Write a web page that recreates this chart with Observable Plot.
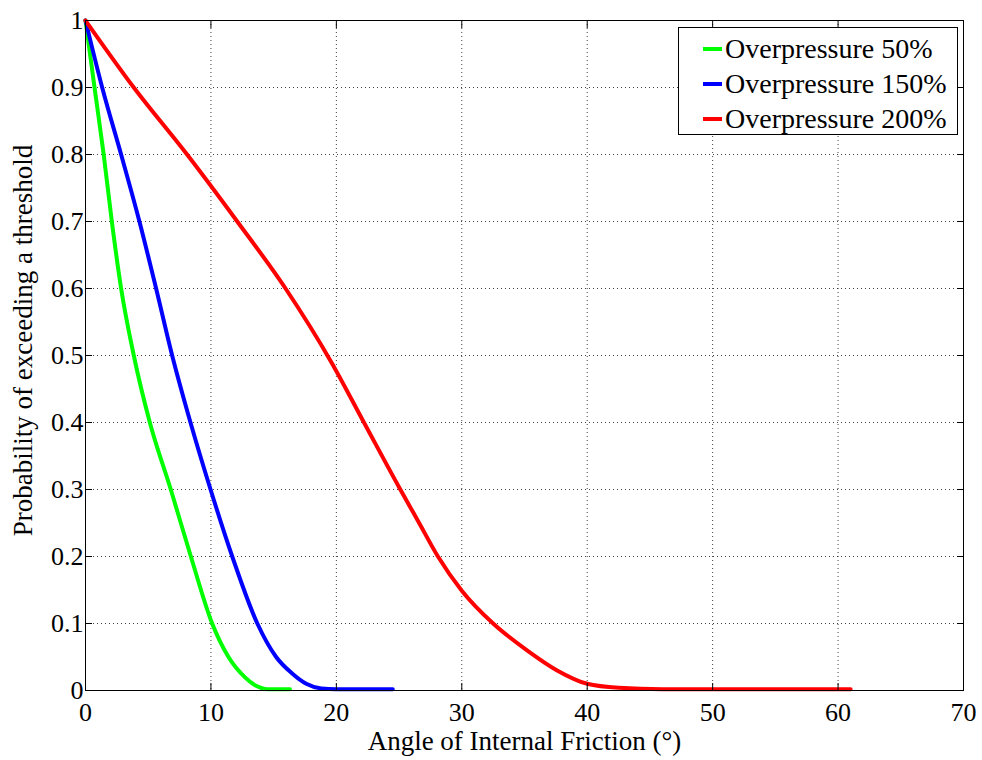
<!DOCTYPE html>
<html>
<head>
<meta charset="utf-8">
<script src="https://cdn.jsdelivr.net/npm/d3@7"></script>
<script src="https://cdn.jsdelivr.net/npm/@observablehq/plot@0.6"></script>
<style>
  html, body { margin: 0; padding: 0; background: white; }
  #wrap { position: relative; width: 982px; height: 760px; font-family: "Liberation Serif", "Times New Roman", Times, "DejaVu Serif", serif; }
  #legend { position: absolute; left: 678px; top: 27px; width: 278px; height: 106px; border: 1px solid #000; background: #fff; box-sizing: content-box; }
  .row { position: absolute; left: 0; height: 35px; display: flex; align-items: center; font-size: 28px; color: #000; white-space: nowrap; }
  .sw { display: inline-block; width: 19px; height: 4px; margin-left: 24px; margin-right: 3px; }
</style>
</head>
<body>
<div id="wrap"><div id="legend"></div></div>
<script>
const seriesNames = ["Overpressure 50%", "Overpressure 150%", "Overpressure 200%"];
const seriesColors = ["#00ff00", "#0000ff", "#ff0000"];

const green50X = [0, 0.72, 1.45, 2.1, 2.84, 3.85, 5.13, 6.8, 8.4, 10.1, 11.4, 12.7, 13.6, 14.5, 16.3];
const green50Y = [1, 0.9, 0.8, 0.7, 0.6, 0.5, 0.4, 0.3, 0.2, 0.1, 0.05, 0.02, 0.007, 0.002, 0.002];

const blue150X = [0, 1.33, 2.84, 4.3, 5.63, 6.91, 8.37, 9.97, 11.7, 13.7, 15.2, 16.5, 17.6, 18.8, 20, 24.5];
const blue150Y = [1, 0.9, 0.8, 0.7, 0.6, 0.5, 0.4, 0.3, 0.2, 0.1, 0.05, 0.025, 0.01, 0.003, 0.002, 0.002];

const red200X = [0, 3.85, 8.1, 12.1, 15.95, 19.6, 22.2, 25.1, 26.6, 28.1, 30.0, 32.5, 35.2, 37.6, 40.0, 42.5, 46, 61];
const red200Y = [1, 0.9, 0.8, 0.7, 0.6, 0.49, 0.4, 0.3, 0.25, 0.2, 0.149, 0.1, 0.06, 0.03, 0.01, 0.004, 0.002, 0.002];

const xTicks = [0, 10, 20, 30, 40, 50, 60, 70];
const yTicks = [0, 0.1, 0.2, 0.3, 0.4, 0.5, 0.6, 0.7, 0.8, 0.9, 1];
const yTickLabels = ["0", "0.1", "0.2", "0.3", "0.4", "0.5", "0.6", "0.7", "0.8", "0.9", "1"];
const xLabel = "Angle of Internal Friction (°)";
const yLabel = "Probability of exceeding a threshold";

const seriesX = [green50X, blue150X, red200X];
const seriesY = [green50Y, blue150Y, red200Y];
const data = [];
seriesNames.forEach((name, i) => {
  seriesX[i].forEach((x, j) => data.push({series: name, x, y: seriesY[i][j]}));
});

const FONT = "'Liberation Serif', 'Times New Roman', Times, 'DejaVu Serif', serif";

const chart = Plot.plot({
  width: 982,
  height: 760,
  marginLeft: 85,
  marginRight: 19,
  marginTop: 20,
  marginBottom: 70,
  style: {fontFamily: FONT, fontSize: "26px", color: "#000", background: "white"},
  x: {domain: [0, 70]},
  y: {domain: [0, 1]},
  color: {domain: seriesNames, range: seriesColors},
  marks: [
    Plot.gridX(xTicks, {stroke: "#000", strokeOpacity: 0.75, strokeDasharray: "1,3"}),
    Plot.gridY(yTicks, {stroke: "#000", strokeOpacity: 0.75, strokeDasharray: "1,3"}),
    Plot.line(data, {x: "x", y: "y", z: "series", stroke: "series", strokeWidth: 4, curve: "monotone-x"}),
    Plot.frame({stroke: "#000", strokeWidth: 1}),
    Plot.axisX(xTicks, {anchor: "bottom", tickSize: -7, tickPadding: 19, label: null, fontSize: 26, tickFormat: d => String(d)}),
    Plot.axisX(xTicks, {anchor: "top", tickSize: -7, label: null, tickFormat: () => ""}),
    Plot.axisY(yTicks, {anchor: "left", tickSize: -7, tickPadding: 9, label: null, fontSize: 26, tickFormat: (d, i) => yTickLabels[i]}),
    Plot.axisY(yTicks, {anchor: "right", tickSize: -7, label: null, tickFormat: () => ""}),
    Plot.text([xLabel], {text: d => d, frameAnchor: "bottom", dy: 40, lineAnchor: "top", fontSize: 27, fill: "#000"}),
    Plot.text([yLabel], {text: d => d, frameAnchor: "left", textAnchor: "middle", dx: -62, dy: -15, rotate: -90, fontSize: 27, fill: "#000"})
  ]
});

const wrap = document.getElementById("wrap");
wrap.insertBefore(chart, wrap.firstChild);

const legend = document.getElementById("legend");
seriesNames.forEach((name, i) => {
  const row = document.createElement("div");
  row.className = "row";
  row.style.top = (3 + i * 35) + "px";
  const sw = document.createElement("span");
  sw.className = "sw";
  sw.style.background = seriesColors[i];
  const t = document.createElement("span");
  t.textContent = name;
  row.appendChild(sw);
  row.appendChild(t);
  legend.appendChild(row);
});
</script>
</body>
</html>
